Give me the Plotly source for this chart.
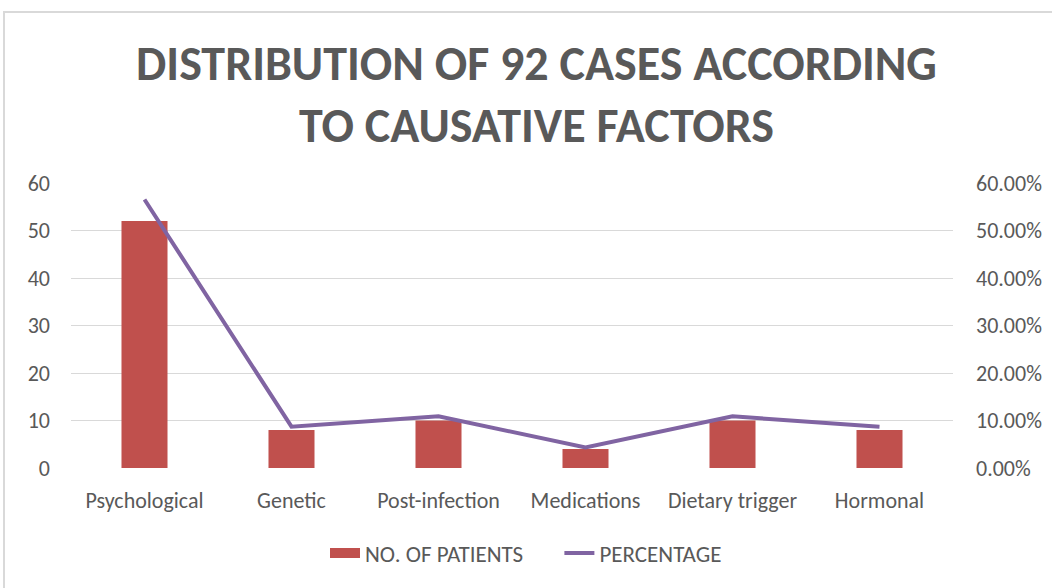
import plotly.graph_objects as go

categories = ["Psychological", "Genetic", "Post-infection", "Medications", "Dietary trigger", "Hormonal"]
patients = [52, 8, 10, 4, 10, 8]
percentage = [0.5652, 0.0870, 0.1087, 0.0435, 0.1087, 0.0870]

FONT = "Calibri, Carlito, Lato, sans-serif"
TXT = "#595959"
BAR_C = "#C0504D"
LINE_C = "#8064A2"

fig = go.Figure()
fig.add_trace(go.Bar(x=categories, y=patients, name="NO. OF PATIENTS", showlegend=False,
                     marker=dict(color=BAR_C, line=dict(width=0)), yaxis="y"))
# legend swatch for the bars (wide rectangle like the original)
fig.add_trace(go.Scatter(x=[None], y=[None], name="NO. OF PATIENTS" + "\u00a0" * 6, mode="lines",
                         line=dict(color=BAR_C, width=14), yaxis="y", hoverinfo="skip"))
fig.add_trace(go.Scatter(x=categories, y=percentage, name="PERCENTAGE", mode="lines",
                         line=dict(color=LINE_C, width=4), yaxis="y2"))

W, H = 1052, 588
L, R, T, B = 71, 99, 183, 120
ph = H - T - B
pw = W - L - R

fig.update_layout(
    width=W, height=H,
    margin=dict(l=L, r=R, t=T, b=B, autoexpand=False),
    paper_bgcolor="white", plot_bgcolor="white",
    font=dict(family=FONT, color=TXT, size=22),
    title=dict(text="<b>DISTRIBUTION OF 92 CASES ACCORDING<br>TO CAUSATIVE FACTORS</b>",
               x=0.51, xanchor="center", y=1 - 80 / H, yanchor="middle",
               font=dict(family=FONT, size=48, color=TXT)),
    bargap=0.687,
    xaxis=dict(showgrid=False, showline=False, ticks="", ticklabelstandoff=17,
               tickfont=dict(size=22, color=TXT)),
    yaxis=dict(range=[0, 60], dtick=10, showgrid=True, gridcolor="#D9D9D9", gridwidth=1,
               zeroline=False, showline=False, ticks="", ticklabelstandoff=20,
               tickfont=dict(size=22, color=TXT)),
    yaxis2=dict(range=[0, 0.6], dtick=0.1, tickformat=".2%", overlaying="y", side="right",
                showgrid=False, zeroline=False, showline=False, ticks="", ticklabelstandoff=22,
                tickfont=dict(size=22, color=TXT)),
    legend=dict(orientation="h", x=(526 - L) / pw, xanchor="center", y=(468 - 553) / ph, yanchor="middle",
                font=dict(size=23, color=TXT), itemwidth=30, traceorder="normal"),
    showlegend=True,
)

fig.add_shape(type="rect", xref="paper", yref="paper",
              x0=(4 - L) / pw, x1=(W + 10 - L) / pw,
              y0=(H - B - (H + 10)) / ph, y1=(H - B - 12) / ph,
              line=dict(color="#D9D9D9", width=2), fillcolor="rgba(0,0,0,0)", layer="below")

fig.write_html("out.html", config={"displayModeBar": False},
               post_script="document.body.style.margin='0';document.body.style.padding='0';")
